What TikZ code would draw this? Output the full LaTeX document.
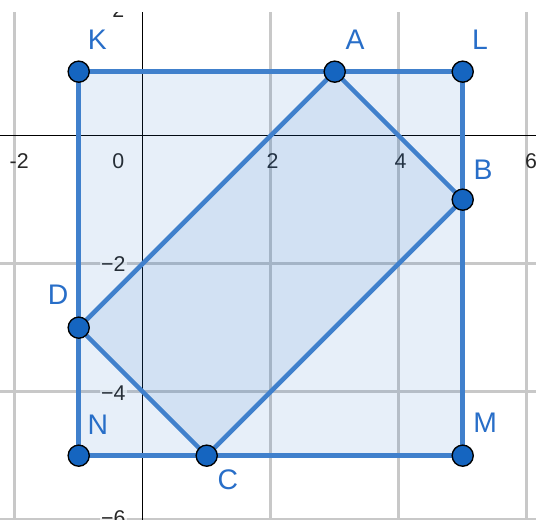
\documentclass[tikz,border=0pt]{standalone}
\usepackage{fontspec}
\setmainfont{Liberation Sans}
\definecolor{gline}{RGB}{64,128,204}
\definecolor{gpt}{RGB}{21,101,192}
\definecolor{gfill}{RGB}{21,101,192}
\definecolor{glabel}{RGB}{40,110,200}
\definecolor{ggrid}{RGB}{200,200,200}
\definecolor{gtick}{RGB}{40,40,40}
\tikzset{
  gridline/.style={draw=ggrid, line width=1.4pt},
  axisline/.style={draw=black, line width=0.6pt},
  edge/.style={draw=gline, line width=2pt, line join=round},
  region/.style={fill=gfill, fill opacity=0.1},
  pt/.style={circle, fill=gpt, draw=black, line width=0.6pt, minimum size=0.33cm, inner sep=0pt},
  plabel/.style={text=glabel, font=\fontsize{12.6}{14}\selectfont, inner sep=0pt},
  tick/.style={text=gtick, font=\fontsize{9.5}{11}\selectfont, inner sep=0pt}
}
\begin{document}
\begin{tikzpicture}
\useasboundingbox (-2.2297,-6.005) rectangle (6.1453,2.12);
\begin{scope}
\clip (-2.2297,-6.005) rectangle (6.1453,1.917);
% grid
\foreach \x in {-2,2,4,6} \draw[gridline] (\x,-6.1) -- (\x,2);
\foreach \y in {-2,-4,-6} \draw[gridline] (-2.3,\y) -- (6.2,\y);
% axes
\draw[axisline] (-2.3,0) -- (6.2,0);
\draw[axisline] (0,-6.1) -- (0,2);
% tick labels
\node[tick] (tx1) at (-1.93,-0.4) {-2};
\node[tick] (tx0) at (-0.38,-0.4) {0};
\node[tick] (tx2) at (2.03,-0.4) {2};
\node[tick] (tx4) at (4.03,-0.4) {4};
\node[tick] (tx6) at (6.07,-0.4) {6};
\node[tick] (ty2) at (-0.38,1.97) {2};
\node[tick,fill=white,fill opacity=0.7,text opacity=1,inner sep=0.5pt] (tym2) at (-0.46,-2.0) {−2};
\node[tick,fill=white,fill opacity=0.7,text opacity=1,inner sep=0.5pt] (tym4) at (-0.46,-4.02) {−4};
\node[tick,fill=white,fill opacity=0.7,text opacity=1,inner sep=0.5pt] (tym6) at (-0.46,-5.97) {−6};
\end{scope}
% points
\coordinate (K) at (-1,1);
\coordinate (A) at (3,1);
\coordinate (L) at (5,1);
\coordinate (B) at (5,-1);
\coordinate (D) at (-1,-3);
\coordinate (N) at (-1,-5);
\coordinate (C) at (1,-5);
\coordinate (M) at (5,-5);
% fills
\path[region] (K) -- (L) -- (M) -- (N) -- cycle;
\path[region] (A) -- (B) -- (C) -- (D) -- cycle;
% edges
\draw[edge] (K) -- (L);
\draw[edge] (L) -- (M);
\draw[edge] (M) -- (N);
\draw[edge] (N) -- (K);
\draw[edge] (A) -- (B);
\draw[edge] (B) -- (C);
\draw[edge] (C) -- (D);
\draw[edge] (D) -- (A);
% point markers
\foreach \p in {K,A,L,B,D,N,C,M} \node[pt] (p\p) at (\p) {};
% labels
\node[plabel] (lK) at (-0.71,1.5) {K};
\node[plabel] (lA) at (3.32,1.5) {A};
\node[plabel] (lL) at (5.27,1.5) {L};
\node[plabel] (lB) at (5.32,-0.54) {B};
\node[plabel] (lD) at (-1.32,-2.49) {D};
\node[plabel] (lN) at (-0.70,-4.52) {N};
\node[plabel] (lM) at (5.35,-4.49) {M};
\node[plabel] (lC) at (1.33,-5.38) {C};
\end{tikzpicture}
\end{document}
